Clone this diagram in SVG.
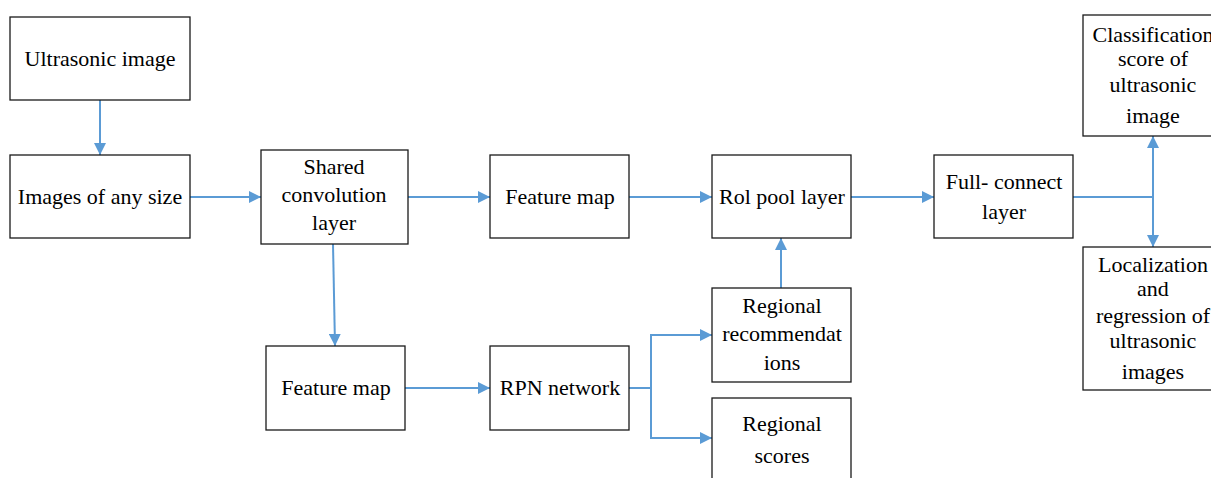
<svg xmlns="http://www.w3.org/2000/svg" width="1211" height="478" viewBox="0 0 1211 478">
  <defs>
    <marker id="arrow" viewBox="0 0 12 12" refX="12" refY="6" markerWidth="12" markerHeight="12" markerUnits="userSpaceOnUse" orient="auto">
      <path d="M0,0 L12,6 L0,12 Z" fill="#5b9bd5"/>
    </marker>
    <style>
      .box { fill: #ffffff; stroke: #1a1a1a; stroke-width: 1.3; }
      .lbl { font-family: "Liberation Serif", "DejaVu Serif", serif; font-size: 22px; fill: #000000; text-anchor: middle; }
      .conn { fill: none; stroke: #5b9bd5; stroke-width: 2; }
      .arr { marker-end: url(#arrow); }
    </style>
  </defs>
  <rect width="1211" height="478" fill="#ffffff"/>

  <g id="connectors">
    <line class="conn arr" x1="100" y1="100" x2="100" y2="155"/>
    <line class="conn arr" x1="190" y1="197" x2="261" y2="197"/>
    <line class="conn arr" x1="408" y1="197" x2="490" y2="197"/>
    <line class="conn arr" x1="629" y1="197" x2="712" y2="197"/>
    <line class="conn arr" x1="851" y1="197" x2="934" y2="197"/>
    <line class="conn" x1="1073" y1="197" x2="1153" y2="197"/>
    <line class="conn arr" x1="1153" y1="197" x2="1153" y2="136"/>
    <line class="conn arr" x1="1153" y1="197" x2="1153" y2="247"/>
    <line class="conn arr" x1="333" y1="244" x2="335" y2="346"/>
    <line class="conn arr" x1="405" y1="388" x2="490" y2="388"/>
    <polyline class="conn" points="629,388 651,388"/>
    <polyline class="conn arr" points="651,388 651,335 712,335"/>
    <polyline class="conn arr" points="651,388 651,438 712,438"/>
    <line class="conn arr" x1="781" y1="288" x2="781" y2="238"/>
  </g>

  <g id="ultrasonic-image">
    <rect class="box" x="10" y="17" width="180" height="83"/>
    <text class="lbl" x="100" y="66">Ultrasonic image</text>
  </g>
  <g id="images-any-size">
    <rect class="box" x="10" y="155" width="180" height="83"/>
    <text class="lbl" x="100" y="204">Images of any size</text>
  </g>
  <g id="shared-conv">
    <rect class="box" x="261" y="150" width="147" height="94"/>
    <text class="lbl" x="334" y="174">Shared</text>
    <text class="lbl" x="334" y="202">convolution</text>
    <text class="lbl" x="334" y="230">layer</text>
  </g>
  <g id="feature-map-top">
    <rect class="box" x="490" y="155" width="139" height="83"/>
    <text class="lbl" x="560" y="204">Feature map</text>
  </g>
  <g id="roi-pool">
    <rect class="box" x="712" y="155" width="139" height="83"/>
    <text class="lbl" x="782" y="204">Rol pool layer</text>
  </g>
  <g id="full-connect">
    <rect class="box" x="934" y="155" width="139" height="83"/>
    <text class="lbl" x="1004" y="189">Full- connect</text>
    <text class="lbl" x="1004" y="219">layer</text>
  </g>
  <g id="classification">
    <rect class="box" x="1083" y="15" width="140" height="121"/>
    <text class="lbl" x="1153" y="42">Classification</text>
    <text class="lbl" x="1153" y="66">score of</text>
    <text class="lbl" x="1153" y="92">ultrasonic</text>
    <text class="lbl" x="1153" y="123">image</text>
  </g>
  <g id="localization">
    <rect class="box" x="1083" y="247" width="140" height="143"/>
    <text class="lbl" x="1153" y="272">Localization</text>
    <text class="lbl" x="1153" y="296">and</text>
    <text class="lbl" x="1153" y="323">regression of</text>
    <text class="lbl" x="1153" y="348">ultrasonic</text>
    <text class="lbl" x="1153" y="379">images</text>
  </g>
  <g id="feature-map-bottom">
    <rect class="box" x="266" y="346" width="139" height="84"/>
    <text class="lbl" x="336" y="395">Feature map</text>
  </g>
  <g id="rpn-network">
    <rect class="box" x="490" y="346" width="139" height="84"/>
    <text class="lbl" x="560" y="395">RPN network</text>
  </g>
  <g id="regional-recommendations">
    <rect class="box" x="712" y="288" width="139" height="94"/>
    <text class="lbl" x="782" y="313">Regional</text>
    <text class="lbl" x="782" y="341">recommendat</text>
    <text class="lbl" x="782" y="370">ions</text>
  </g>
  <g id="regional-scores">
    <rect class="box" x="712" y="398" width="139" height="90"/>
    <text class="lbl" x="782" y="431">Regional</text>
    <text class="lbl" x="782" y="463">scores</text>
  </g>
</svg>
